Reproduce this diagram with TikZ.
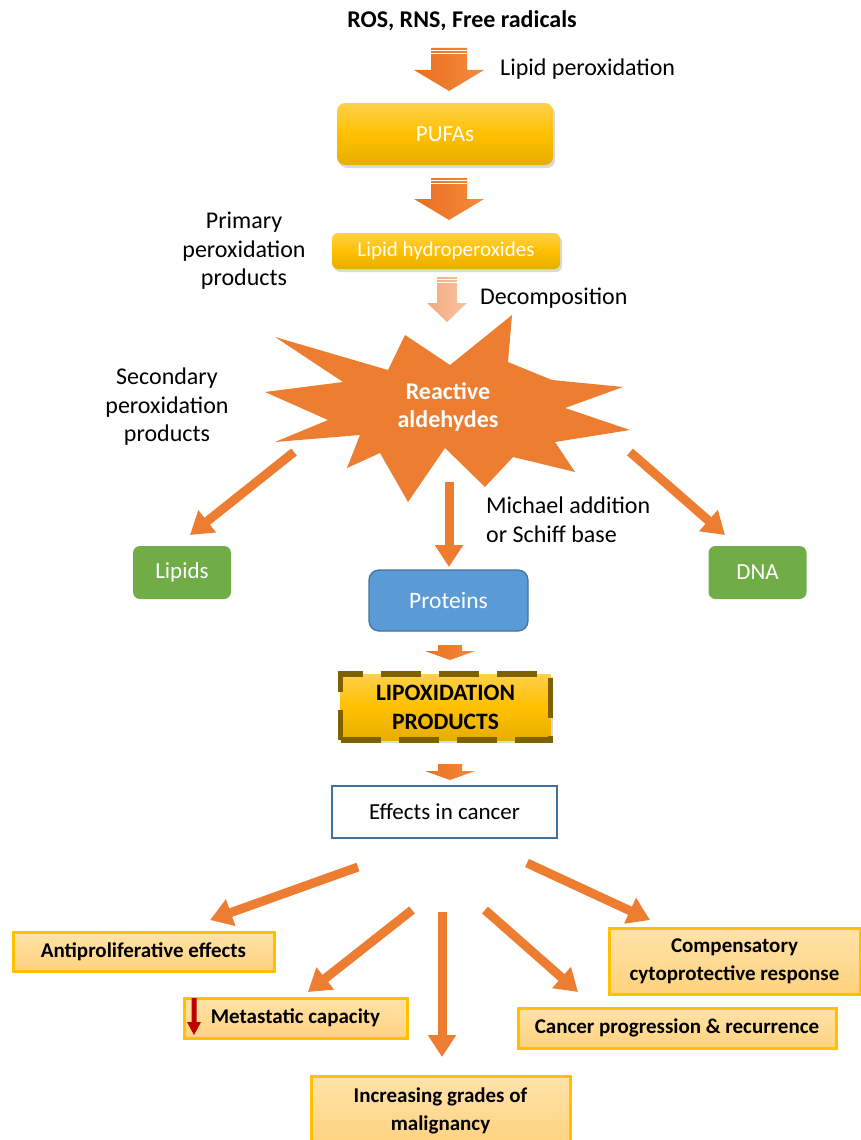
\documentclass[tikz,border=0pt]{standalone}
\usepackage{fontspec}
\setmainfont{Carlito}
\usetikzlibrary{arrows.meta,shadows,positioning}

\definecolor{aldorange}{HTML}{ED7D31}
\definecolor{arrdark}{HTML}{E8701F}
\definecolor{arrlight}{HTML}{F58A3E}
\definecolor{salmdark}{HTML}{F3AA80}
\definecolor{salmlight}{HTML}{F8C4A3}
\definecolor{goldtop}{HTML}{FFD04A}
\definecolor{goldmid}{HTML}{FFC000}
\definecolor{goldbot}{HTML}{E6AE00}
\definecolor{lipgreen}{HTML}{70AD47}
\definecolor{protblue}{HTML}{5B9BD5}
\definecolor{protedge}{HTML}{41719C}
\definecolor{lipoxedge}{HTML}{7F6000}
\definecolor{outtop}{HTML}{FFE3A9}
\definecolor{outbot}{HTML}{FFD27E}
\definecolor{downred}{HTML}{C00000}

\tikzset{
  txt/.style={font=\fontsize{24}{28.5}\selectfont, inner sep=0pt, align=center},
  bigbold/.style={font=\bfseries\fontsize{24}{28.5}\selectfont, inner sep=0pt, align=center},
  goldbox/.style={rounded corners=8pt, top color=goldtop, bottom color=goldbot, middle color=goldmid,
    drop shadow={opacity=0.3, shadow xshift=2pt, shadow yshift=-3pt}, text=white, inner sep=0pt},
  greenbox/.style={rounded corners=7pt, fill=lipgreen, text=white, inner sep=0pt,
    minimum width=98pt, minimum height=53pt, font=\fontsize{23}{28}\selectfont},
  outbox/.style={draw=goldmid, line width=3pt, top color=outtop, bottom color=outbot,
    inner sep=0pt, align=center, font=\bfseries\fontsize{21}{28}\selectfont},
  conn/.style={draw=aldorange, line width=9pt, -{Triangle[width=27pt,length=22pt]}},
}

\begin{document}
\begin{tikzpicture}[x=1pt,y=-1pt]
  \useasboundingbox (0,0) rectangle (861,1140);

  % Source and the first steps of lipid peroxidation
  \node[bigbold] (ros) at (462,21) {ROS, RNS, Free radicals};
  \node[txt, anchor=west] (lpo) at (500,69) {Lipid peroxidation};
  \node[goldbox, minimum width=216pt, minimum height=62pt, font=\fontsize{23}{28}\selectfont] (pufa) at (445,134) {PUFAs};
  \node[goldbox, minimum width=228pt, minimum height=36pt, rounded corners=6pt, font=\fontsize{21}{26}\selectfont] (lhp) at (446,251) {Lipid hydroperoxides};
  \node[txt] (prim) at (244,251) {Primary\\peroxidation\\products};
  \node[txt, anchor=west] (dec) at (480,298) {Decomposition};

  % Block arrows with the little stripes on top
  \foreach \yt/\yh/\yp in {48/70/91, 178/199/220} {
    \shade[left color=arrdark, right color=arrlight] (431,\yt) -- (467,\yt) -- (467,\yh) -- (484,\yh)
      -- (449,\yp) -- (414,\yh) -- (431,\yh) -- cycle;
    \draw[white, line width=0.8pt] (431,\yt+2.5) -- (467,\yt+2.5) (431,\yt+5) -- (467,\yt+5);
  }
  \shade[left color=salmdark, right color=salmlight] (437,277) -- (457,277) -- (457,303) -- (467,303)
    -- (447,322) -- (427,303) -- (437,303) -- cycle;
  \draw[white, line width=0.8pt] (437,279.5) -- (457,279.5) (437,282) -- (457,282);

  % The burst of reactive aldehydes
  \fill[aldorange] (275,337) -- (388,370) -- (405,335) -- (450,365) -- (512,315) -- (508,362)
    -- (552,380) -- (623,387) -- (565,408) -- (630,430) -- (555,442) -- (575,472) -- (513,457)
    -- (485,487) -- (445,448) -- (408,502) -- (380,453) -- (347,468) -- (360,435) -- (275,442)
    -- (328,420) -- (265,392) -- (343,382) -- cycle;
  \node[bigbold, text=white] (ald) at (448,407) {Reactive\\aldehydes};
  \node[txt] (sec) at (167,407) {Secondary\\peroxidation\\products};
  \node[txt, anchor=west, align=left] (mich) at (486,520) {Michael addition\\or Schiff base};

  % Targets
  \node[greenbox] (lip) at (182,572.5) {Lipids};
  \node[greenbox] (dna) at (757.5,572.5) {DNA};
  \node[rounded corners=10pt, fill=protblue, draw=protedge, line width=1.2pt, text=white, inner sep=0pt,
    minimum width=159pt, minimum height=61pt, font=\fontsize{23.5}{28}\selectfont] (prot) at (448.5,600.5) {Proteins};

  \coordinate (lip-s) at (294,452);  \coordinate (lip-e) at (190,535);
  \coordinate (dna-s) at (630,452);  \coordinate (dna-e) at (725,535);
  \coordinate (prot-s) at (449,482); \coordinate (prot-e) at (449,567);
  \draw[conn] (lip-s) -- (lip-e);
  \draw[conn] (dna-s) -- (dna-e);
  \draw[conn] (prot-s) -- (prot-e);

  % Lipoxidation products and effects
  \foreach \yt/\yh/\yp in {645/651/660, 764/771/780} {
    \shade[left color=arrdark, right color=arrlight] (438,\yt) -- (462,\yt) -- (462,\yh) -- (475,\yh)
      -- (450,\yp) -- (425,\yh) -- (438,\yh) -- cycle;
  }
  \node[goldbox, draw=lipoxedge, line width=5.5pt, dash pattern=on 40pt off 18pt, rounded corners=0pt,
    minimum width=210pt, minimum height=66pt, text=black, align=center,
    font=\bfseries\fontsize{23.5}{29}\selectfont] (lipox) at (445.5,707) {LIPOXIDATION\\PRODUCTS};
  \node[draw=protedge, line width=1.5pt, fill=white, inner sep=0pt, minimum width=225pt, minimum height=52pt,
    font=\fontsize{23}{28}\selectfont] (eff) at (444.5,812) {Effects in cancer};

  % Effects in cancer
  \node[outbox, minimum width=261pt, minimum height=39pt] (anti) at (143.5,951.5) {Antiproliferative effects};
  \node[outbox, minimum width=223pt, minimum height=40pt] (meta) at (295.5,1018) {Metastatic capacity};
  \node[outbox, minimum width=259pt, minimum height=70pt] (incr) at (440.5,1111) {Increasing grades of\\malignancy};
  \node[outbox, minimum width=251pt, minimum height=66pt] (comp) at (734.5,961) {Compensatory\\cytoprotective response};
  \node[outbox, minimum width=318pt, minimum height=40pt] (canc) at (677,1028) {Cancer progression \& recurrence};
  \fill[downred] (191.5,998) -- (196.5,998) -- (196.5,1022) -- (201,1022) -- (194,1035) -- (187,1022) -- (191.5,1022) -- cycle;

  \foreach \n/\xa/\ya/\xb/\yb in {anti/358/867/210/920, meta/412/910/308/992, incr/442/912/442/1057,
      canc/485/910/578/992, comp/527/863/650/920} {
    \coordinate (\n-s) at (\xa,\ya);
    \coordinate (\n-e) at (\xb,\yb);
    \draw[conn] (\n-s) -- (\n-e);
  }
\end{tikzpicture}
\end{document}
